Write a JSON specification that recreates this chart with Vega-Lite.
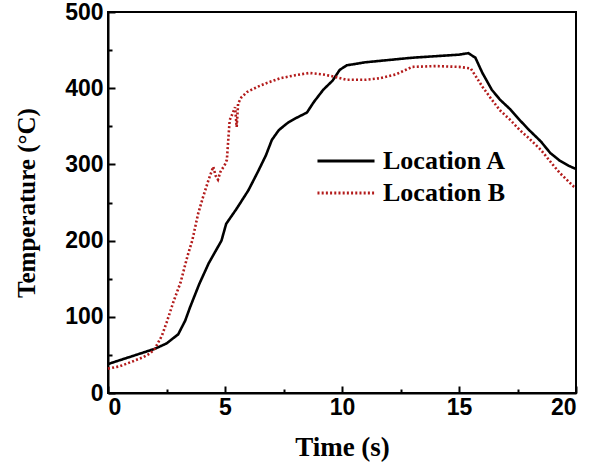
{
  "$schema": "https://vega.github.io/schema/vega-lite/v6.json",
  "width": 468,
  "height": 381,
  "autosize": "none",
  "padding": {"left": 108, "top": 12, "right": 23, "bottom": 73},
  "background": "white",
  "config": {
    "view": {"stroke": "black", "strokeWidth": 2},
    "axis": {
      "domainColor": "black", "domainWidth": 2,
      "tickColor": "black", "tickWidth": 2,
      "labelFont": "Liberation Sans", "labelFontWeight": "bold", "labelFontSize": 23, "labelColor": "black",
      "titleFont": "Liberation Serif", "titleFontWeight": "bold", "titleFontSize": 27, "titleColor": "black",
      "grid": false
    }
  },
  "data": {"values": [
    {"s":"Location A","t":0,"v":38},{"s":"Location A","t":0.5,"v":43},{"s":"Location A","t":1,"v":48},{"s":"Location A","t":1.5,"v":53},{"s":"Location A","t":2,"v":58},{"s":"Location A","t":2.5,"v":65},{"s":"Location A","t":3,"v":77},{"s":"Location A","t":3.3,"v":95},{"s":"Location A","t":3.5,"v":112},{"s":"Location A","t":3.9,"v":143},{"s":"Location A","t":4.3,"v":170},{"s":"Location A","t":4.85,"v":200},{"s":"Location A","t":5.05,"v":222},{"s":"Location A","t":5.5,"v":242},{"s":"Location A","t":6.0,"v":266},{"s":"Location A","t":6.4,"v":290},{"s":"Location A","t":6.75,"v":312},{"s":"Location A","t":7.0,"v":332},{"s":"Location A","t":7.3,"v":345},{"s":"Location A","t":7.7,"v":355},{"s":"Location A","t":8.05,"v":361},{"s":"Location A","t":8.5,"v":368},{"s":"Location A","t":8.8,"v":382},{"s":"Location A","t":9.2,"v":398},{"s":"Location A","t":9.6,"v":410},{"s":"Location A","t":9.9,"v":424},{"s":"Location A","t":10.2,"v":430},{"s":"Location A","t":11,"v":434},{"s":"Location A","t":12,"v":437},{"s":"Location A","t":13,"v":440},{"s":"Location A","t":14,"v":442},{"s":"Location A","t":15,"v":444},{"s":"Location A","t":15.4,"v":446},{"s":"Location A","t":15.7,"v":440},{"s":"Location A","t":16.0,"v":420},{"s":"Location A","t":16.4,"v":398},{"s":"Location A","t":16.75,"v":385},{"s":"Location A","t":17.2,"v":372},{"s":"Location A","t":17.6,"v":358},{"s":"Location A","t":18.0,"v":345},{"s":"Location A","t":18.5,"v":330},{"s":"Location A","t":18.9,"v":315},{"s":"Location A","t":19.3,"v":305},{"s":"Location A","t":19.7,"v":298},{"s":"Location A","t":20,"v":294},
    {"s":"Location B","t":0,"v":32},{"s":"Location B","t":0.5,"v":35},{"s":"Location B","t":1.1,"v":42},{"s":"Location B","t":1.5,"v":47},{"s":"Location B","t":1.8,"v":52},{"s":"Location B","t":2.0,"v":58},{"s":"Location B","t":2.3,"v":75},{"s":"Location B","t":2.5,"v":92},{"s":"Location B","t":2.8,"v":120},{"s":"Location B","t":3.1,"v":145},{"s":"Location B","t":3.4,"v":180},{"s":"Location B","t":3.6,"v":200},{"s":"Location B","t":3.85,"v":235},{"s":"Location B","t":4.06,"v":257},{"s":"Location B","t":4.3,"v":280},{"s":"Location B","t":4.5,"v":297},{"s":"Location B","t":4.6,"v":285},{"s":"Location B","t":4.7,"v":280},{"s":"Location B","t":4.8,"v":290},{"s":"Location B","t":5.0,"v":300},{"s":"Location B","t":5.08,"v":306},{"s":"Location B","t":5.13,"v":328},{"s":"Location B","t":5.2,"v":358},{"s":"Location B","t":5.3,"v":365},{"s":"Location B","t":5.43,"v":375},{"s":"Location B","t":5.5,"v":349},{"s":"Location B","t":5.56,"v":380},{"s":"Location B","t":5.7,"v":388},{"s":"Location B","t":5.94,"v":395},{"s":"Location B","t":6.4,"v":402},{"s":"Location B","t":6.8,"v":407},{"s":"Location B","t":7.35,"v":413},{"s":"Location B","t":8,"v":417},{"s":"Location B","t":8.6,"v":420},{"s":"Location B","t":9.2,"v":418},{"s":"Location B","t":9.7,"v":415},{"s":"Location B","t":10.2,"v":411},{"s":"Location B","t":11,"v":411},{"s":"Location B","t":11.6,"v":413},{"s":"Location B","t":12.3,"v":418},{"s":"Location B","t":13,"v":428},{"s":"Location B","t":14,"v":429},{"s":"Location B","t":15,"v":428},{"s":"Location B","t":15.5,"v":426},{"s":"Location B","t":16.0,"v":402},{"s":"Location B","t":16.4,"v":385},{"s":"Location B","t":16.75,"v":371},{"s":"Location B","t":17.2,"v":358},{"s":"Location B","t":17.6,"v":345},{"s":"Location B","t":18,"v":334},{"s":"Location B","t":18.5,"v":319},{"s":"Location B","t":19,"v":300},{"s":"Location B","t":19.3,"v":289},{"s":"Location B","t":19.9,"v":271},{"s":"Location B","t":20,"v":269}
  ]},
  "mark": {"type": "line", "strokeWidth": 2.6, "strokeCap": "butt"},
  "encoding": {
    "x": {
      "field": "t", "type": "quantitative", "title": "Time (s)",
      "scale": {"domain": [0, 20], "nice": false, "zero": false},
      "axis": {
        "values": [0, 2.5, 5, 7.5, 10, 12.5, 15, 17.5, 20],
        "labelExpr": "datum.value % 5 === 0 ? datum.label : ''",
        "tickSize": {"condition": {"test": "datum.value % 5 === 0", "value": -7}, "value": -4},
        "labelPadding": 10, "titlePadding": 15
      }
    },
    "y": {
      "field": "v", "type": "quantitative", "title": "Temperature (°C)",
      "scale": {"domain": [0, 500], "nice": false},
      "axis": {
        "values": [0, 50, 100, 150, 200, 250, 300, 350, 400, 450, 500],
        "labelExpr": "datum.value % 100 === 0 ? datum.label : ''",
        "tickSize": {"condition": {"test": "datum.value % 100 === 0", "value": -7}, "value": -4},
        "labelPadding": 12, "titlePadding": 25,
        "titleFontWeight": "bold", "titleFontSize": 25
      }
    },
    "color": {
      "field": "s", "type": "nominal",
      "scale": {"domain": ["Location A", "Location B"], "range": ["#000000", "#b31b1b"]},
      "legend": {
        "title": null, "orient": "none", "legendX": 219, "legendY": 130,
        "symbolType": "M-1.63,0H1.63", "symbolSize": 1225, "symbolStrokeWidth": 2.8,
        "labelFont": "Liberation Serif", "labelFontWeight": "bold", "labelFontSize": 26, "labelColor": "black",
        "rowPadding": 0, "labelOffset": 18
      }
    },
    "strokeDash": {
      "field": "s", "type": "nominal",
      "scale": {"domain": ["Location A", "Location B"], "range": [[1, 0], [2, 2.2]]},
      "legend": null
    }
  }
}
